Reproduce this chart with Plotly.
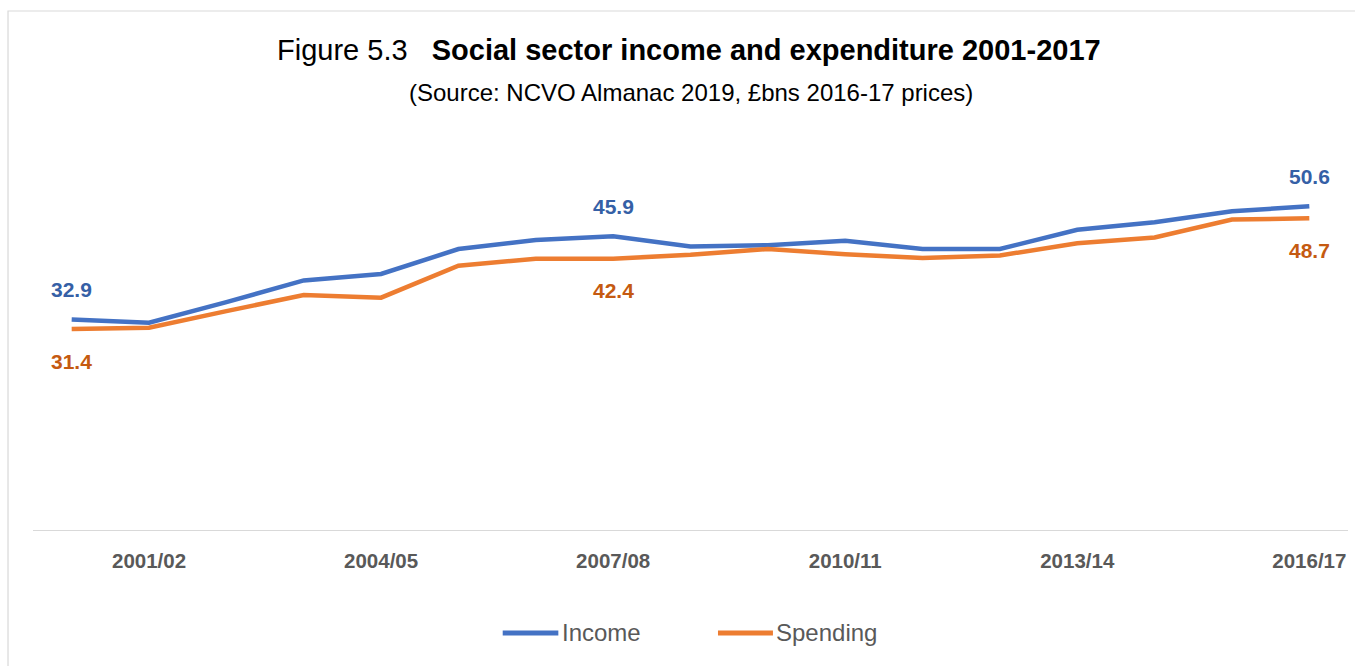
import plotly.graph_objects as go

# Financial years 2000/01 .. 2016/17
years = [
    "2000/01", "2001/02", "2002/03", "2003/04", "2004/05", "2005/06",
    "2006/07", "2007/08", "2008/09", "2009/10", "2010/11", "2011/12",
    "2012/13", "2013/14", "2014/15", "2015/16", "2016/17",
]
# £bn, 2016-17 prices
income = [32.9, 32.4, 35.6, 39.0, 40.0, 43.9, 45.3, 45.9, 44.3, 44.5,
          45.2, 43.9, 43.9, 46.9, 48.1, 49.8, 50.6]
spending = [31.4, 31.6, 34.2, 36.7, 36.3, 41.3, 42.4, 42.4, 43.0, 43.9,
            43.1, 42.5, 42.9, 44.8, 45.7, 48.5, 48.7]

tick_labels = years[1::3]
labelled_idx = [0, 7, 16]

FONT = "Liberation Sans, Arial, sans-serif"
BLUE, ORANGE = "#4472C4", "#ED7D31"
BLUE_TXT, ORANGE_TXT = "#3560A6", "#C55A11"
GREY = "#595959"

fig = go.Figure()
fig.add_trace(go.Scatter(x=years, y=income, mode="lines", name="Income",
                         line=dict(color=BLUE, width=4.5), showlegend=False))
fig.add_trace(go.Scatter(x=years, y=spending, mode="lines", name="Spending",
                         line=dict(color=ORANGE, width=4.5), showlegend=False))

annotations = []
for i in labelled_idx:
    annotations.append(dict(x=years[i], y=income[i], xref="x", yref="y",
                            text=f"<b>{income[i]:.1f}</b>", showarrow=False,
                            yshift=30, font=dict(family=FONT, size=21, color=BLUE_TXT)))
    annotations.append(dict(x=years[i], y=spending[i], xref="x", yref="y",
                            text=f"<b>{spending[i]:.1f}</b>", showarrow=False,
                            yshift=-32, font=dict(family=FONT, size=21, color=ORANGE_TXT)))

# Titles
annotations.append(dict(
    x=0.499, y=1.25, xref="paper", yref="paper", xanchor="center", yanchor="middle",
    text="Figure 5.3\u00a0\u00a0 <b>Social sector income and expenditure 2001-2017</b>",
    showarrow=False, font=dict(family=FONT, size=29, color="#000000")))
annotations.append(dict(
    x=0.5, y=1.1406, xref="paper", yref="paper", xanchor="center", yanchor="middle",
    text="(Source: NCVO Almanac 2019, £bns 2016-17 prices)",
    showarrow=False, font=dict(family=FONT, size=24, color="#000000")))

# Legend entries
legend_y = -0.268
for label, color, x0, x1, xt in [("Income", BLUE, 0.3572, 0.3995, 0.4005),
                                 ("Spending", ORANGE, 0.5209, 0.5627, 0.5637)]:
    annotations.append(dict(x=xt, y=legend_y, xref="paper", yref="paper",
                            xanchor="left", yanchor="middle", text=label, showarrow=False,
                            font=dict(family=FONT, size=24, color=GREY)))

shapes = [
    dict(type="line", xref="paper", yref="paper", x0=0.3572, x1=0.3995,
         y0=legend_y, y1=legend_y, line=dict(color=BLUE, width=5)),
    dict(type="line", xref="paper", yref="paper", x0=0.5209, x1=0.5627,
         y0=legend_y, y1=legend_y, line=dict(color=ORANGE, width=5)),
    # chart frame
    dict(type="rect", xref="paper", yref="paper", x0=-0.019, x1=1.05,
         y0=-0.5, y1=1.3516, line=dict(color="#D9D9D9", width=1.2),
         fillcolor="rgba(0,0,0,0)", layer="below"),
]

fig.update_layout(
    width=1355, height=666,
    margin=dict(l=33, r=7, t=146, b=136),
    paper_bgcolor="white", plot_bgcolor="white",
    annotations=annotations, shapes=shapes,
    xaxis=dict(type="category", range=[-0.5, 16.5], showgrid=False,
               showline=True, linecolor="#D9D9D9", linewidth=1.3,
               tickmode="array", tickvals=tick_labels,
               ticktext=[f"<b>{t}</b>" for t in tick_labels],
               ticks="", ticklabelstandoff=12,
               tickfont=dict(family=FONT, size=20.5, color=GREY)),
    yaxis=dict(range=[0, 60], visible=False),
    showlegend=False,
)

fig.write_html("out.html")
